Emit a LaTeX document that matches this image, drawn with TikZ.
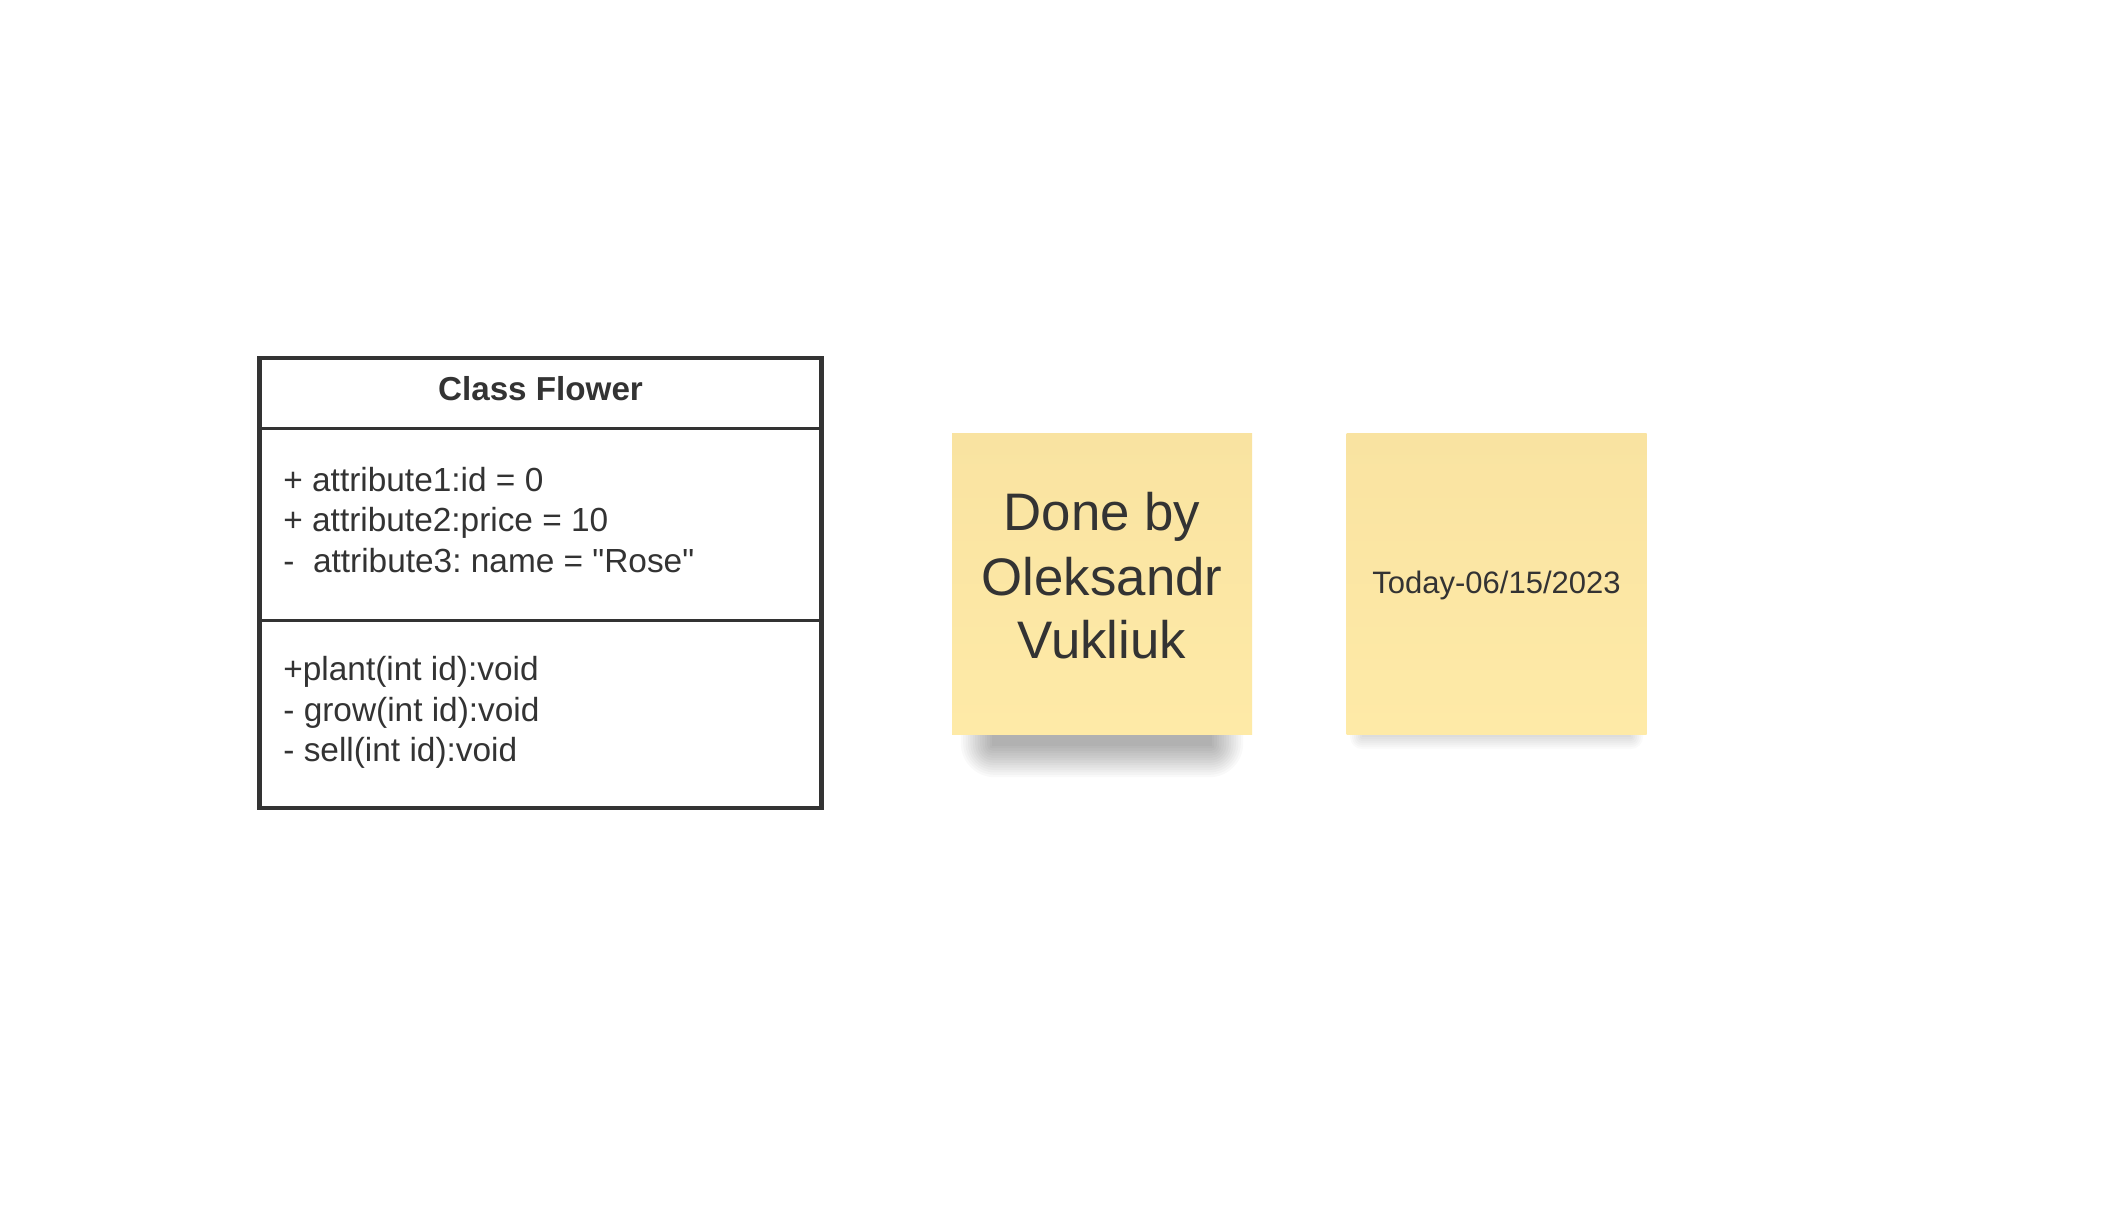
\documentclass[tikz,border=0pt]{standalone}
\usepackage{fontspec}
\setmainfont{Liberation Sans}[Ligatures=TeXOff]
\usepackage{tikz}
\usetikzlibrary{positioning}
\definecolor{ink}{HTML}{333333}
\definecolor{notetop}{HTML}{F9E3A1}
\definecolor{notebottom}{HTML}{FEEAA7}
\frenchspacing
\tikzset{
  txt/.style={inner sep=0pt, text=ink, anchor=base west, font=\fontsize{16.7pt}{20pt}\selectfont},
  note/.style={rectangle, inner sep=0pt, minimum width=150pt, minimum height=150.5pt, top color=notetop, bottom color=notebottom},
  bigtxt/.style={inner sep=0pt, text=ink, anchor=base, font=\fontsize{26.4pt}{32pt}\selectfont},
  shade layer/.style={black, opacity=0.022}
}

\begin{document}
\begin{tikzpicture}[x=0.5pt,y=-0.5pt]
        \fill[white] (0,0) rectangle (2104,1217);
        \useasboundingbox (0,0) rectangle (2104,1217);

        \draw [ink, line width=2.25pt](259.5,358) rectangle (821.5,808);
        \draw [ink, line width=1.5pt](259.5,428.5)--(821.5,428.5);
        \draw [ink, line width=1.5pt](259.5,620)--(821.5,620);

        \node [txt, anchor=base, font=\fontsize{16.6pt}{20pt}\selectfont\bfseries] (title) at (540.5,400) {Class Flower};

        \node [txt] (attrA) at (283,491) {+ attribute1:id = 0};
        \node [txt] (attrB) at (283,531) {+ attribute2:price = 10};
        \node [txt] (attrC) at (283,572) {-\ \ attribute3: name = "Rose"};

        \node [txt] (opA) at (283,680) {+plant(int id):void};
        \node [txt] (opB) at (283,721) {- grow(int id):void};
        \node [txt] (opC) at (283,761) {- sell(int id):void};

        \foreach \k in {0,...,13}
            \fill [shade layer, rounded corners=\k*1.3pt] (992-\k*2.4,610-\k*2.4) rectangle (1212+\k*2.4,746+\k*2.4);
        \node [note] (author) at (1102,583.5) {};
        \node [bigtxt] (authorA) at (1102,530) {Done by};
        \node [bigtxt] (authorB) at (1102,595) {Oleksandr};
        \node [bigtxt] (authorC) at (1102,658) {Vukliuk};

        \foreach \k in {0,...,6}
            \fill [shade layer, opacity=0.02, rounded corners=\k*1pt] (1362-\k*2,600-\k*2) rectangle (1631+\k*2,737+\k*2);
        \node [note] (date) at (1496.5,583.5) {};
        \node [txt, anchor=base, font=\fontsize{15.5pt}{19pt}\selectfont] (dateA) at (1496.5,593) {Today-06/15/2023};

        \end{tikzpicture}
\end{document}
